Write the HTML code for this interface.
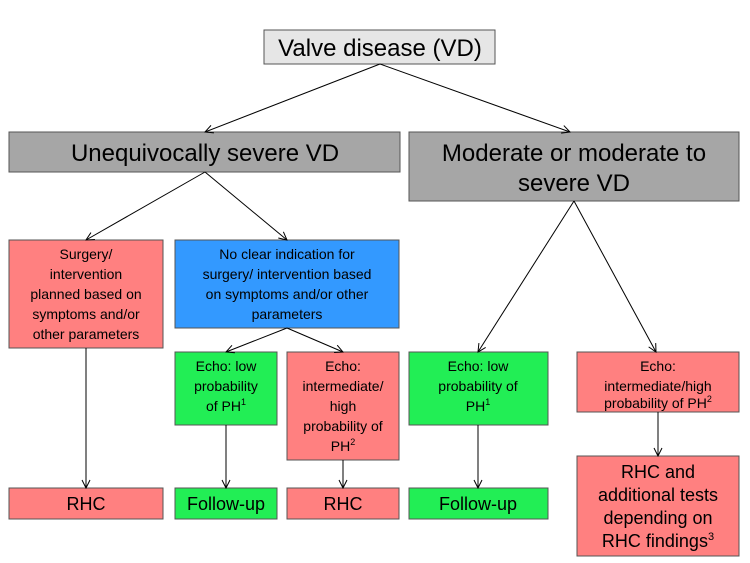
<!DOCTYPE html>
<html><head><meta charset="utf-8"><style>
html,body{margin:0;padding:0;background:#fff}
svg{display:block}
text{font-family:"Liberation Sans",Arial,sans-serif;fill:#000;text-anchor:middle}
.s{font-size:14px}
.b{font-size:18px}
.l{font-size:24px}
rect{stroke:#555;stroke-width:1}
line{stroke:#000;stroke-width:1}
</style></head><body>
<svg width="750" height="563" viewBox="0 0 750 563" xmlns="http://www.w3.org/2000/svg">
<defs><marker id="a" markerWidth="10" markerHeight="10" refX="9" refY="5" orient="auto" markerUnits="userSpaceOnUse"><path d="M1,1 L9,5 L1,9" fill="none" stroke="#000" stroke-width="1"/></marker></defs>
<rect x="264" y="30" width="231" height="34" fill="#e6e6e6"/>
<text class="l" x="380" y="56">Valve disease (VD)</text>
<rect x="9" y="132" width="391" height="40" fill="#a6a6a6"/>
<text class="l" x="205" y="161">Unequivocally severe VD</text>
<rect x="409" y="132" width="330" height="69" fill="#a6a6a6"/>
<text class="l" x="574" y="161">Moderate or moderate to</text>
<text class="l" x="574" y="191">severe VD</text>
<rect x="9" y="240" width="154" height="108" fill="#ff8080"/>
<text class="s" x="86" y="259">Surgery/</text>
<text class="s" x="86" y="279">intervention</text>
<text class="s" x="86" y="299">planned based on</text>
<text class="s" x="86" y="319">symptoms and/or</text>
<text class="s" x="86" y="339">other parameters</text>
<rect x="175" y="240" width="224" height="88" fill="#3399ff"/>
<text class="s" x="287" y="259">No clear indication for</text>
<text class="s" x="287" y="279">surgery/ intervention based</text>
<text class="s" x="287" y="299">on symptoms and/or other</text>
<text class="s" x="287" y="319">parameters</text>
<rect x="175" y="352" width="102" height="73" fill="#22ee55"/>
<text class="s" x="226" y="371">Echo: low</text>
<text class="s" x="226" y="391">probability</text>
<text class="s" x="226" y="411">of PH<tspan font-size="9" dy="-6">1</tspan></text>
<rect x="287" y="352" width="112" height="108" fill="#ff8080"/>
<text class="s" x="343" y="371">Echo:</text>
<text class="s" x="343" y="391">intermediate/</text>
<text class="s" x="343" y="411">high</text>
<text class="s" x="343" y="431">probability of</text>
<text class="s" x="343" y="451">PH<tspan font-size="9" dy="-6">2</tspan></text>
<rect x="409" y="352" width="139" height="73" fill="#22ee55"/>
<text class="s" x="478" y="371">Echo: low</text>
<text class="s" x="478" y="391">probability of</text>
<text class="s" x="478" y="411">PH<tspan font-size="9" dy="-6">1</tspan></text>
<rect x="577" y="352" width="162" height="60" fill="#ff8080"/>
<text class="s" x="658" y="371">Echo:</text>
<text class="s" x="658" y="391">intermediate/high</text>
<text class="s" x="658" y="411" dy="-3">probability of PH<tspan font-size="9" dy="-6">2</tspan></text>
<rect x="9" y="488" width="154" height="31" fill="#ff8080"/>
<text class="b" x="86" y="510">RHC</text>
<rect x="175" y="488" width="102" height="31" fill="#22ee55"/>
<text class="b" x="226" y="510">Follow-up</text>
<rect x="287" y="488" width="112" height="31" fill="#ff8080"/>
<text class="b" x="343" y="510">RHC</text>
<rect x="409" y="488" width="139" height="31" fill="#22ee55"/>
<text class="b" x="478" y="510">Follow-up</text>
<rect x="577" y="456" width="162" height="100" fill="#ff8080"/>
<text class="b" x="658" y="478">RHC and</text>
<text class="b" x="658" y="501">additional tests</text>
<text class="b" x="658" y="524">depending on</text>
<text class="b" x="658" y="547">RHC findings<tspan font-size="11" dy="-7">3</tspan></text>
<g marker-end="url(#a)">
<line x1="380" y1="64" x2="205" y2="132"/>
<line x1="380" y1="64" x2="570" y2="132"/>
<line x1="205" y1="172" x2="86" y2="240"/>
<line x1="205" y1="172" x2="287" y2="240"/>
<line x1="574" y1="201" x2="478" y2="352"/>
<line x1="574" y1="201" x2="656" y2="352"/>
<line x1="287" y1="328" x2="226" y2="352"/>
<line x1="287" y1="328" x2="343" y2="352"/>
<line x1="86" y1="348" x2="86" y2="488"/>
<line x1="226" y1="425" x2="226" y2="488"/>
<line x1="343" y1="460" x2="343" y2="488"/>
<line x1="478" y1="425" x2="478" y2="488"/>
<line x1="658" y1="412" x2="658" y2="456"/>
</g>
</svg>
</body></html>
